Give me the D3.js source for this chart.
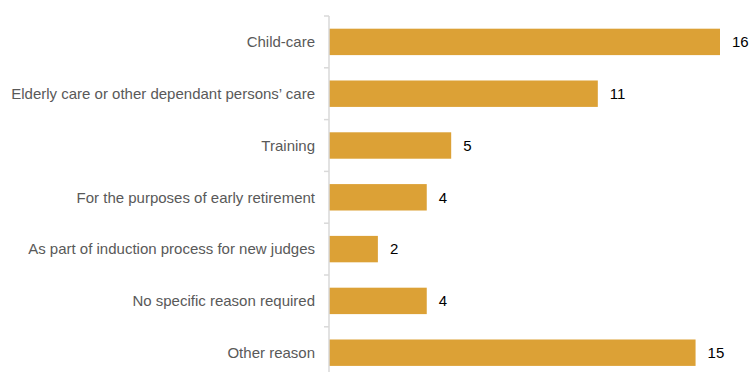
<!DOCTYPE html>
<html>
<head>
<meta charset="utf-8">
<script src="https://cdn.jsdelivr.net/npm/d3@7"></script>
<style>
  body { margin: 0; background: #fff; }
  svg { display: block; }
</style>
</head>
<body>
<div id="chart"></div>
<script>
// data
var reasons = [
  "Child-care",
  "Elderly care or other dependant persons\u2019 care",
  "Training",
  "For the purposes of early retirement",
  "As part of induction process for new judges",
  "No specific reason required",
  "Other reason"
];
var counts = [16, 11, 5, 4, 2, 4, 15];

var width = 752,
  height = 372,
  axisX = 329,
  marginTop = 16,
  bandBottom = 378.6;

var barColor = "#dca136";

var svg = d3.select("#chart")
  .append("svg")
  .attr("width", width)
  .attr("height", height);

var x = d3.scaleLinear()
  .domain([0, 16])
  .range([axisX, 720]);

var y = d3.scaleBand()
  .domain(reasons)
  .range([marginTop, bandBottom])
  .paddingInner(0.49)
  .paddingOuter(0.245);

// bars
svg.selectAll("rect.bar")
  .data(counts)
  .enter()
  .append("rect")
  .attr("class", "bar")
  .attr("x", x(0))
  .attr("y", function(d, i) { return y(reasons[i]); })
  .attr("width", function(d) { return x(d) - x(0); })
  .attr("height", y.bandwidth())
  .attr("fill", barColor);

// category axis with ticks between bands
var axisG = svg.append("g");
axisG.append("line")
  .attr("x1", axisX).attr("x2", axisX)
  .attr("y1", marginTop).attr("y2", height + 10)
  .attr("stroke", "#d9d9d9")
  .attr("stroke-width", 1.5);

var step = y.step();
axisG.selectAll("line.tick")
  .data(d3.range(reasons.length + 1))
  .enter()
  .append("line")
  .attr("class", "tick")
  .attr("x1", axisX - 5).attr("x2", axisX)
  .attr("y1", function(i) { return marginTop + i * step; })
  .attr("y2", function(i) { return marginTop + i * step; })
  .attr("stroke", "#d9d9d9")
  .attr("stroke-width", 1.5);

// category labels
svg.selectAll("text.cat")
  .data(reasons)
  .enter()
  .append("text")
  .attr("class", "cat")
  .attr("x", axisX - 14)
  .attr("y", function(d) { return y(d) + y.bandwidth() / 2; })
  .attr("dy", "0.35em")
  .attr("text-anchor", "end")
  .style("font-family", "'Liberation Sans', Arial, sans-serif")
  .style("font-size", "15px")
  .style("fill", "#595959")
  .text(function(d) { return d; });

// value labels
svg.selectAll("text.val")
  .data(counts)
  .enter()
  .append("text")
  .attr("class", "val")
  .attr("x", function(d) { return x(d) + 12; })
  .attr("y", function(d, i) { return y(reasons[i]) + y.bandwidth() / 2; })
  .attr("dy", "0.35em")
  .style("font-family", "'Liberation Sans', Arial, sans-serif")
  .style("font-size", "15px")
  .style("fill", "#000")
  .text(function(d) { return d; });
</script>
</body>
</html>
